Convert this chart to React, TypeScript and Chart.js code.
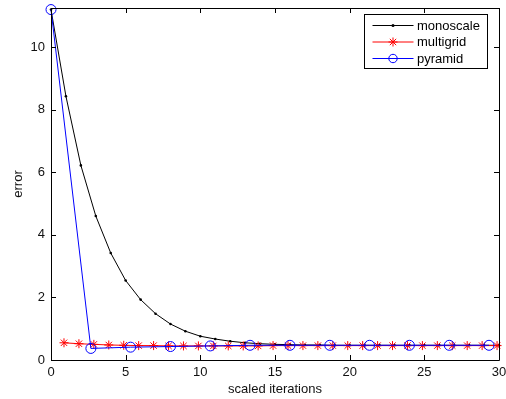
import React, { useEffect, useRef } from "react";
import { Chart, registerables } from "chart.js";

Chart.register(...registerables);

const monoX = [0,1,2,3,4,5,6,7,8,9,10,11,12,13,14,15,16,17,18,19,20,21,22,23,24,25,26,27,28,29,30];
const monoY = [11.2,8.43,6.22,4.6,3.42,2.54,1.93,1.48,1.15,0.92,0.76,0.67,0.6,0.55,0.52,0.5,0.49,0.48,0.48,0.47,0.47,0.47,0.47,0.47,0.47,0.47,0.47,0.47,0.47,0.47,0.47];

const multiX = [0.87,1.87,2.87,3.87,4.87,5.87,6.87,7.87,8.87,9.87,10.87,11.87,12.87,13.87,14.87,15.87,16.87,17.87,18.87,19.87,20.87,21.87,22.87,23.87,24.87,25.87,26.87,27.87,28.87,29.87];
const multiY = [0.55,0.52,0.5,0.48,0.47,0.46,0.46,0.45,0.45,0.45,0.45,0.45,0.45,0.45,0.46,0.46,0.46,0.46,0.46,0.46,0.46,0.46,0.46,0.46,0.46,0.46,0.46,0.46,0.46,0.46];

const pyrX = [0,2.67,5.33,8,10.67,13.33,16,18.67,21.33,24,26.67,29.33];
const pyrY = [11.2,0.37,0.41,0.43,0.45,0.47,0.47,0.47,0.47,0.47,0.47,0.47];

const xTicks = [0,5,10,15,20,25,30];
const yTicks = [0,2,4,6,8,10];
const legendLabels = ["monoscale", "multigrid", "pyramid"];

const FONT = "'Liberation Sans', Arial, Helvetica, sans-serif";
const FS = 13;

const toPts = (xs: number[], ys: number[]) => xs.map((x, i) => ({ x, y: ys[i] }));

const framePlugin = {
  id: "frame",
  afterDraw(chart: any) {
    const ctx = chart.ctx;
    const { left, right, top, bottom } = chart.chartArea;
    const xs = chart.scales.x;
    const ys = chart.scales.y;
    ctx.save();
    ctx.strokeStyle = "#000";
    ctx.lineWidth = 1;
    ctx.beginPath();
    ctx.rect(Math.round(left) + 0.5, Math.round(top) + 0.5, Math.round(right - left), Math.round(bottom - top));
    ctx.stroke();
    const tl = 5;
    ctx.beginPath();
    xTicks.forEach((v) => {
      const px = Math.round(xs.getPixelForValue(v)) + 0.5;
      ctx.moveTo(px, bottom);
      ctx.lineTo(px, bottom - tl);
      ctx.moveTo(px, top);
      ctx.lineTo(px, top + tl);
    });
    yTicks.forEach((v) => {
      const py = Math.round(ys.getPixelForValue(v)) + 0.5;
      ctx.moveTo(left, py);
      ctx.lineTo(left + tl, py);
      ctx.moveTo(right, py);
      ctx.lineTo(right - tl, py);
    });
    ctx.stroke();

    // legend
    const lx = 364.5, ly = 14.5, lw = 123, lh = 54;
    ctx.fillStyle = "#fff";
    ctx.fillRect(lx, ly, lw, lh);
    ctx.strokeStyle = "#000";
    ctx.strokeRect(lx, ly, lw, lh);
    const rows = [25.5, 42, 58.5];
    chart.data.datasets.forEach((ds: any, i: number) => {
      const y = rows[i];
      ctx.strokeStyle = ds.borderColor;
      ctx.lineWidth = 1;
      ctx.beginPath();
      ctx.moveTo(372.5, y);
      ctx.lineTo(413.5, y);
      ctx.stroke();
      ctx.fillStyle = ds.borderColor;
      const style = ds.pointStyle;
      ctx.beginPath();
      if (style === "circle" && i === 0) {
        ctx.arc(393, y, 1.5, 0, Math.PI * 2);
        ctx.fill();
      } else if (style === "circle") {
        ctx.arc(393, y, 4.2, 0, Math.PI * 2);
        ctx.stroke();
      } else if (style === "star") {
        const r = 4.5;
        for (let k = 0; k < 4; k++) {
          const a = (k * Math.PI) / 4;
          ctx.moveTo(393 - Math.cos(a) * r, y - Math.sin(a) * r);
          ctx.lineTo(393 + Math.cos(a) * r, y + Math.sin(a) * r);
        }
        ctx.stroke();
      }
      ctx.fillStyle = "#000";
      ctx.font = `${FS}px ${FONT}`;
      ctx.textBaseline = "middle";
      ctx.textAlign = "left";
      ctx.fillText(legendLabels[i], 417, y + 0.5);
    });
    ctx.restore();
  },
};

export default function App() {
  const ref = useRef<HTMLCanvasElement>(null);
  useEffect(() => {
    if (!ref.current) return;
    const chart = new Chart(ref.current, {
      type: "scatter",
      data: {
        datasets: [
          {
            label: legendLabels[0],
            data: toPts(monoX, monoY),
            showLine: true,
            borderColor: "#000",
            backgroundColor: "#000",
            pointBackgroundColor: "#000",
            borderWidth: 1,
            pointStyle: "circle",
            pointRadius: 1.3,
            pointBorderWidth: 0,
            clip: false,
            order: 3,
          },
          {
            label: legendLabels[1],
            data: toPts(multiX, multiY),
            showLine: true,
            borderColor: "#ff0000",
            backgroundColor: "#ff0000",
            borderWidth: 1,
            pointStyle: "star",
            pointRadius: 4.5,
            pointBorderWidth: 1,
            clip: false,
            order: 2,
          },
          {
            label: legendLabels[2],
            data: toPts(pyrX, pyrY),
            showLine: true,
            borderColor: "#0000ff",
            backgroundColor: "rgba(0,0,0,0)",
            pointBackgroundColor: "rgba(0,0,0,0)",
            borderWidth: 1,
            pointStyle: "circle",
            pointRadius: 5,
            pointBorderWidth: 1,
            clip: false,
            order: 1,
          },
        ],
      },
      options: {
        animation: false,
        responsive: false,
        devicePixelRatio: 1,
        layout: { padding: { left: 0, right: 7, top: 8, bottom: 0 } },
        plugins: { legend: { display: false }, tooltip: { enabled: false } },
        scales: {
          x: {
            type: "linear",
            min: 0,
            max: 30,
            grid: { display: false, drawTicks: false },
            border: { display: false },
            afterBuildTicks: (s: any) => { s.ticks = xTicks.map((v) => ({ value: v })); },
            afterFit: (s: any) => { s.height = 39; s.paddingLeft = 0; s.paddingRight = 0; },
            ticks: { color: "#111", padding: 5, font: { family: FONT, size: FS }, maxRotation: 0 },
            title: { display: true, text: "scaled iterations", color: "#111", font: { family: FONT, size: FS }, padding: { top: 0, bottom: 2 } },
          },
          y: {
            type: "linear",
            min: 0,
            max: 11.25,
            grid: { display: false, drawTicks: false },
            border: { display: false },
            afterBuildTicks: (s: any) => { s.ticks = yTicks.map((v) => ({ value: v })); },
            afterFit: (s: any) => { s.width = 51; s.paddingTop = 0; s.paddingBottom = 0; },
            ticks: { color: "#111", padding: 6, font: { family: FONT, size: FS } },
            title: { display: true, text: "error", color: "#111", font: { family: FONT, size: FS }, padding: { top: 11, bottom: 0 } },
          },
        },
      },
      plugins: [framePlugin],
    } as any);
    return () => chart.destroy();
  }, []);
  return (
    <div style={{ position: "fixed", left: 0, top: 0, width: 506, height: 399, background: "#fff" }}>
      <canvas ref={ref} width={506} height={399} style={{ display: "block" }} />
    </div>
  );
}
